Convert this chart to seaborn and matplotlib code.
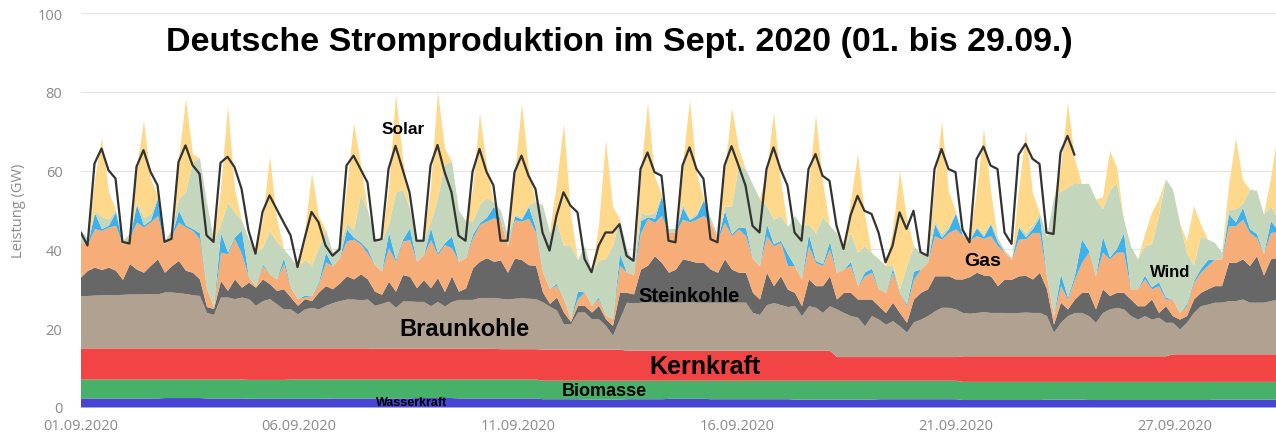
import numpy as np
import pandas as pd
import matplotlib
matplotlib.use("Agg")
import matplotlib.pyplot as plt
import seaborn as sns

# Werte in GW, je Tag 6 Zeitpunkte: 0, 4, 8, 12, 16, 20 Uhr (29.09. nur bis 12 Uhr)
SLOTS = 6

# langsame Quellen: ein Wert je Tag (01.09. - 29.09.)
wasserkraft = [2.3, 2.3, 2.4, 2.3, 2.2, 2.2, 2.3, 2.3, 2.4, 2.3, 2.3,
               2.1, 2.0, 2.1, 2.2, 2.1, 2.1, 2.0, 2.0, 2.1, 2.1,
               1.9, 1.9, 2.0, 1.9, 1.9, 1.9, 2.0, 2.0]
biomasse = [4.8, 4.8, 4.7, 4.8, 4.8, 4.9, 4.8, 4.8, 4.7, 4.8, 4.8,
            4.7, 4.8, 4.7, 4.6, 4.7, 4.7, 4.8, 4.8, 4.7, 4.7,
            4.6, 4.6, 4.5, 4.6, 4.6, 4.6, 4.5, 4.5]
kernkraft = [7.9, 7.9, 7.9, 7.9, 8.0, 7.9, 7.9, 7.8, 7.8, 7.8, 7.7,
             7.9, 7.9, 7.6, 7.6, 7.6, 7.6, 7.6, 6.0, 6.0, 6.0,
             6.5, 6.5, 6.5, 6.5, 6.5, 7.0, 7.0, 7.0]

braunkohle = [
    [13.3, 13.3, 13.4, 13.5, 13.5, 13.5], [13.6, 13.7, 13.7, 13.7, 13.8, 13.7],
    [14.2, 14.2, 14.0, 13.8, 13.5, 13.3], [9.0, 8.5, 12.9, 12.9, 12.5, 12.9],
    [12.5, 10.8, 12.0, 12.5, 11.2, 9.9], [9.9, 8.6, 9.9, 10.3, 9.9, 10.8],
    [11.5, 12.0, 12.4, 12.4, 12.2, 12.4], [10.9, 11.4, 12.0, 10.4, 12.0, 12.0],
    [11.9, 11.9, 10.8, 11.9, 10.7, 11.9], [12.4, 12.4, 12.4, 12.9, 12.9, 12.9],
    [12.8, 12.6, 12.8, 12.9, 12.8, 12.7], [12.0, 10.9, 9.9, 6.4, 6.4, 9.4],
    [9.4, 7.7, 7.7, 6.0, 3.5, 7.7], [12.2, 12.0, 12.2, 12.3, 12.2, 12.2],
    [12.2, 12.2, 12.2, 12.3, 12.2, 12.2], [12.2, 12.2, 12.2, 12.2, 12.2, 12.2],
    [9.6, 9.1, 11.6, 12.1, 11.6, 11.1], [11.3, 8.8, 11.3, 10.9, 9.6, 11.3],
    [12.1, 11.2, 10.4, 10.0, 7.8, 10.4], [9.5, 8.2, 9.1, 7.8, 6.2, 8.8],
    [9.5, 10.4, 11.6, 12.5, 12.5, 12.1], [11.0, 10.8, 11.0, 11.2, 11.0, 11.0],
    [11.0, 10.9, 11.0, 11.1, 11.0, 11.0], [10.2, 6.0, 8.5, 10.2, 11.0, 11.0],
    [10.2, 8.5, 11.0, 11.9, 12.3, 11.9], [10.2, 9.3, 10.2, 9.3, 9.8, 8.5],
    [8.0, 6.3, 8.0, 10.5, 12.2, 12.6], [13.1, 13.1, 13.5, 13.5, 13.9, 13.1],
    [13.1, 13.1, 13.5, 13.9],
]
steinkohle = [
    [4.7, 6.4, 7.1, 6.4, 7.0, 6.2], [3.8, 7.7, 6.3, 5.5, 7.2, 8.9],
    [5.0, 6.7, 8.2, 5.9, 5.7, 4.2], [1.5, 1.5, 4.2, 1.7, 5.0, 2.5],
    [4.2, 4.6, 5.5, 3.8, 3.4, 5.1], [3.0, 2.2, 2.6, 1.7, 4.3, 5.0],
    [3.5, 4.5, 5.9, 5.1, 6.6, 5.1], [3.6, 2.3, 5.0, 4.1, 6.7, 6.3],
    [3.5, 5.5, 4.6, 6.0, 3.7, 6.5], [2.1, 2.9, 8.0, 9.2, 10.1, 9.2],
    [9.7, 6.8, 10.2, 9.7, 8.5, 8.5], [2.5, 0.7, 3.3, 3.0, 0.6, 1.7],
    [1.7, 1.7, 3.4, 1.7, 2.5, 6.8], [2.5, 2.3, 8.4, 9.3, 11.8, 10.1],
    [7.6, 8.4, 11.0, 10.5, 10.1, 10.1], [8.4, 7.6, 11.0, 8.4, 7.6, 7.6],
    [5.1, 3.9, 8.2, 4.3, 7.3, 4.4], [3.4, 2.5, 6.8, 5.5, 6.8, 7.6],
    [2.5, 5.1, 5.9, 4.6, 6.8, 4.2], [3.4, 3.0, 4.7, 3.4, 2.5, 5.8],
    [6.8, 6.8, 8.9, 8.0, 8.0, 7.6], [8.5, 9.3, 10.2, 9.3, 9.3, 6.8],
    [8.5, 8.5, 9.3, 9.3, 8.5, 10.2], [6.8, 2.0, 5.1, 1.7, 3.4, 5.1],
    [5.9, 3.4, 6.0, 3.4, 3.8, 4.2], [4.2, 3.4, 2.5, 5.1, 1.2, 4.2],
    [1.7, 2.5, 1.7, 3.4, 3.4, 3.9], [4.2, 4.2, 9.7, 9.7, 10.2, 9.3],
    [11.8, 6.9, 10.6, 10.6],
]
gas = [
    [8.9, 6.7, 9.8, 9.9, 10.2, 11.4], [8.9, 6.7, 11.9, 11.5, 11.0, 11.0],
    [7.2, 7.7, 9.7, 11.0, 10.6, 10.2], [4.5, 0.5, 7.2, 9.3, 10.2, 8.5],
    [1.3, 0.4, 3.4, 2.5, 2.9, 6.4], [2.5, 1.7, 0.4, 1.3, 2.1, 6.0],
    [5.9, 6.5, 8.9, 10.1, 7.6, 6.5], [6.8, 5.9, 8.5, 7.6, 8.5, 9.3],
    [6.7, 6.4, 12.2, 5.9, 11.9, 7.1], [7.6, 7.7, 7.6, 9.3, 9.3, 11.0],
    [10.2, 6.7, 9.7, 9.8, 11.8, 8.4], [5.1, 3.8, 3.0, 3.4, 0.7, 1.7],
    [3.4, 1.7, 1.7, 0.9, 1.7, 6.8], [5.1, 5.0, 9.3, 11.8, 8.5, 11.9],
    [10.1, 9.3, 10.1, 9.8, 11.0, 11.9], [11.9, 8.4, 9.3, 8.5, 11.0, 9.3],
    [8.5, 8.5, 9.3, 10.1, 8.5, 6.0], [6.8, 6.8, 8.4, 5.9, 5.1, 6.8],
    [6.8, 5.9, 6.8, 3.4, 5.9, 6.8], [4.3, 5.1, 7.6, 5.1, 4.2, 5.1],
    [5.9, 6.7, 10.2, 9.3, 11.0, 12.7], [11.0, 9.3, 9.3, 9.3, 10.2, 10.1],
    [6.8, 5.1, 9.3, 9.3, 11.8, 10.1], [3.3, 2.2, 4.2, 2.5, 5.1, 7.6],
    [10.2, 8.4, 9.3, 9.3, 10.2, 10.2], [2.6, 4.3, 6.8, 2.6, 6.8, 1.7],
    [4.2, 1.7, 2.5, 4.2, 5.1, 5.9], [6.8, 6.8, 9.3, 9.3, 10.1, 8.4],
    [4.6, 5.5, 6.7, 6.5],
]
pumpspeicher = [
    [0, 0, 4, 0.5, 0.5, 3.5], [0, 0, 4.5, 0.5, 0.5, 4.5], [0, 0, 3, 0.5, 0.5, 1.5],
    [0, 0, 5, 0.5, 0.5, 6], [0, 0, 0.5, 0, 0, 1.5], [0, 0, 0.5, 0, 0.5, 2.5],
    [0, 0, 3, 0.5, 0.5, 1], [0, 0, 4, 0.5, 0.5, 3], [0, 0, 3, 0.5, 0.5, 3],
    [0, 0, 1, 0.5, 1, 3], [0, 0, 1, 0.5, 3, 1], [0, 0, 0.5, 0, 0, 2],
    [0, 0, 0.5, 0, 0, 3], [0, 0, 3, 0.5, 1, 5], [0, 0, 3, 0.5, 1, 4],
    [0, 0, 3, 0.5, 0.5, 2], [0, 0, 3, 0.5, 0.5, 3], [0, 0, 3, 0.5, 0.5, 2],
    [0, 0, 1, 0, 1, 1], [0, 0, 1, 0, 0.5, 2], [0, 0, 3, 0.5, 1, 4],
    [0, 0, 2, 0.5, 3, 1], [0, 0, 3, 0.5, 1, 4], [0, 0, 3, 0.5, 1, 6],
    [0.5, 0, 4, 0.5, 1, 5], [0, 0, 1, 0.5, 1, 0.5], [0, 0, 0.5, 0.5, 1, 1.5],
    [0, 0, 3, 1, 3, 1], [1, 0, 3, 0.5],
]
wind = [
    [3, 1.5, 0.5, 3, 1.5, 0.5], [1, 1, 0.5, 2, 1.5, 0.5], [1, 1.5, 3, 8.5, 17, 19],
    [22, 17, 2, 12.6, 6.3, 2.5], [9.7, 8.5, 4.2, 11, 9.5, 2.3], [7.6, 8, 9, 7.7, 8.7, 5.7],
    [3.4, 3, 1.5, 2, 12, 10], [6.7, 7.8, 2, 17, 12.7, 5], [5, 4, 1.5, 14, 20, 19],
    [13, 9.4, 3.4, 4.6, 5, 1], [2.5, 2.6, 0.5, 0.5, 0.5, 6.7], [17, 14.3, 15.6, 13.5, 18.6, 8],
    [11.8, 8.5, 9.3, 14.4, 18.6, 8.8], [6, 3, 2, 0.5, 1.5, 0.5], [1, 1, 1, 0.5, 0.5, 0.5],
    [1, 1, 1, 7, 16, 14.9], [19, 17, 4.6, 6.3, 6.3, 7], [12.7, 13.5, 2.5, 7, 12, 4],
    [10, 5, 7.4, 8.5, 6.6, 4], [7.6, 6.8, 0.7, 0.9, 9.7, 6.4], [4, 2, 1, 1, 0.5, 0.5],
    [0.5, 0.5, 0.5, 0.5, 0.5, 1], [0.5, 0.5, 0.5, 1, 1, 1], [10, 30, 21, 28, 23.5, 14],
    [17, 19.5, 7, 17, 16.7, 3.4], [10.9, 7.6, 7.4, 11, 17, 30], [27.9, 22.9, 13, 4, 8.3, 5.2],
    [4.2, 1.7, 1.3, 3.3, 1, 10], [11, 10, 3.7, 3],
]
solar = [
    [0, 0, 8, 20, 7, 0], [0, 0, 9, 24.5, 9, 0], [0, 0, 10, 23.5, 2, 0],
    [0, 0, 9, 24.5, 6, 0], [0, 0, 7, 19, 6, 0], [0, 0, 7, 23.5, 8, 0],
    [0, 0, 9, 27, 8, 0], [0, 0, 9, 25, 8, 0], [0, 0, 9, 27, 4, 0],
    [0, 0, 8, 23.3, 8, 0], [0, 0, 10, 29, 9, 0], [0, 0, 10, 31, 8, 0],
    [0, 0, 9, 30, 10, 0], [0, 0, 10, 28.5, 9, 0], [0, 0, 10, 30, 10, 0],
    [0, 0, 9, 25, 4, 0], [0, 0, 9, 27, 9, 0], [0, 0, 10, 30, 9, 0],
    [0, 0, 8, 25, 8, 0], [0, 0, 9, 30, 12, 0], [0, 0, 9, 28.5, 9, 0],
    [0, 0, 9, 27, 8, 0], [0, 0, 9, 26, 8, 0], [0, 0, 6, 21.5, 6, 0],
    [0, 0, 3, 10, 4, 0], [0, 0, 3, 8, 4, 0], [0, 0, 3, 15, 3, 0],
    [0, 0, 6, 18, 6, 0], [0, 0, 7, 22],
]
# Last (schwarze Linie), endet am 24.09. nachmittags
last = [
    [44.4, 41, 61.8, 65.6, 60.1, 58], [41.9, 41.5, 61, 65.2, 59.7, 56.3],
    [41.9, 42.7, 62.2, 66.4, 61.4, 59.2], [43.6, 41.9, 62, 63.5, 60.9, 55.4],
    [44.8, 38.9, 49.5, 53.7, 50.3, 46.9], [43.6, 35.5, 42.7, 49.5, 46.9, 41],
    [38.4, 40, 61.3, 63.8, 60.4, 57], [42.2, 42.6, 60.4, 66.3, 60.4, 54.5],
    [42.2, 42.2, 61.3, 66.5, 59.7, 54.5], [43.5, 42.2, 59.7, 65.5, 59.7, 56.2],
    [42.2, 42.2, 59.6, 63.8, 58.7, 55.3], [44.3, 39.7, 48.6, 54.5, 51.1, 49.4],
    [37.6, 34.2, 40.9, 44.3, 44.3, 46.4], [38.4, 37.1, 60.4, 64.6, 59.6, 58.7],
    [42.2, 41.8, 61.3, 65.9, 60.4, 57.9], [42.6, 41.8, 61.3, 66.2, 61.3, 56.2],
    [46, 44.3, 60.4, 65.9, 60.4, 56.2], [44.3, 42.2, 60.4, 64.2, 58.7, 57.4],
    [46, 40.1, 48.6, 53.6, 49.8, 49], [44.3, 36.7, 40.9, 49.4, 45.2, 49.8],
    [39.3, 38.4, 60.4, 65.5, 60.4, 59.6], [45, 41.8, 62.9, 66.1, 61.3, 60.4],
    [44.3, 41.4, 64, 66.8, 63, 61.7], [44.3, 43.9, 64.6, 68.8, 64],
]

tick_hours = [0, 125, 250, 375, 500, 625]
tick_labels = ["01.09.2020", "06.09.2020", "11.09.2020", "16.09.2020", "21.09.2020", "27.09.2020"]

colors = ["#4845d4", "#47b16a", "#f24444", "#b1a190", "#676767",
          "#f6ad78", "#3fb1ea", "#c4d7bd", "#ffd98b"]

labels = [  # text, day, GW, fontsize
    ("Solar", 7.68, 70.6, 12.5),
    ("Braunkohle", 9.15, 19.8, 17),
    ("Steinkohle", 14.5, 28.2, 14.5),
    ("Kernkraft", 14.87, 10.4, 18),
    ("Biomasse", 12.46, 4.1, 13),
    ("Wasserkraft", 7.89, 1.2, 9),
    ("Gas", 21.49, 37.1, 14),
    ("Wind", 25.94, 34.3, 12),
]


def flat(rows):
    return np.array([v for row in rows for v in row], dtype=float)


n = len(flat(solar))
t = np.arange(n) / SLOTS
layers = [np.repeat(wasserkraft, SLOTS)[:n], np.repeat(biomasse, SLOTS)[:n],
          np.repeat(kernkraft, SLOTS)[:n], flat(braunkohle), flat(steinkohle),
          flat(gas), flat(pumpspeicher), flat(wind), flat(solar)]
last_vals = np.full(n, np.nan)
lv = flat(last)
last_vals[:len(lv)] = lv
df = pd.DataFrame({"t": t, "Last": last_vals})

sns.set_theme(style="white")
plt.rcParams["font.family"] = ["Open Sans", "DejaVu Sans"]

fig = plt.figure(figsize=(12.76, 4.39), dpi=100)
ax = fig.add_axes([80.5 / 1276, 31 / 439, 1195.5 / 1276, 394 / 439])
ax.stackplot(t, *layers, colors=colors, linewidth=0, antialiased=True)
sns.lineplot(data=df, x="t", y="Last", ax=ax, color="#333333", linewidth=1.6)

ax.set_xlim(0, 1195.5 / 42)
ax.set_ylim(0, 100)
ax.set_yticks([0, 20, 40, 60, 80, 100])
ax.set_xticks([h / 24 for h in tick_hours])
ax.set_xticklabels(tick_labels)
ax.grid(axis="y", color="#e6e6e6", linewidth=1)
ax.set_axisbelow(True)
ax.tick_params(axis="both", colors="#8a8a8a", labelsize=10.5, length=0)
ax.tick_params(axis="y", pad=13)
ax.tick_params(axis="x", pad=8)
ax.set_xlabel("")
ax.set_ylabel("Leistung (GW)", color="#8a8a8a", fontsize=10.5)
ax.yaxis.set_label_coords(-0.046, 0.5)
sns.despine(ax=ax, left=True, bottom=True)

for txt, x, y, fs in labels:
    ax.text(x, y, txt, ha="center", va="center", fontsize=fs,
            fontweight="bold", family="Liberation Sans", color="black")

fig.text(619 / 1276, 1 - 42 / 439, "Deutsche Stromproduktion im Sept. 2020 (01. bis 29.09.)",
         ha="center", va="center", fontsize=24.5, fontweight="bold",
         family="Liberation Sans", color="black")

fig.savefig("out.png", dpi=100)
